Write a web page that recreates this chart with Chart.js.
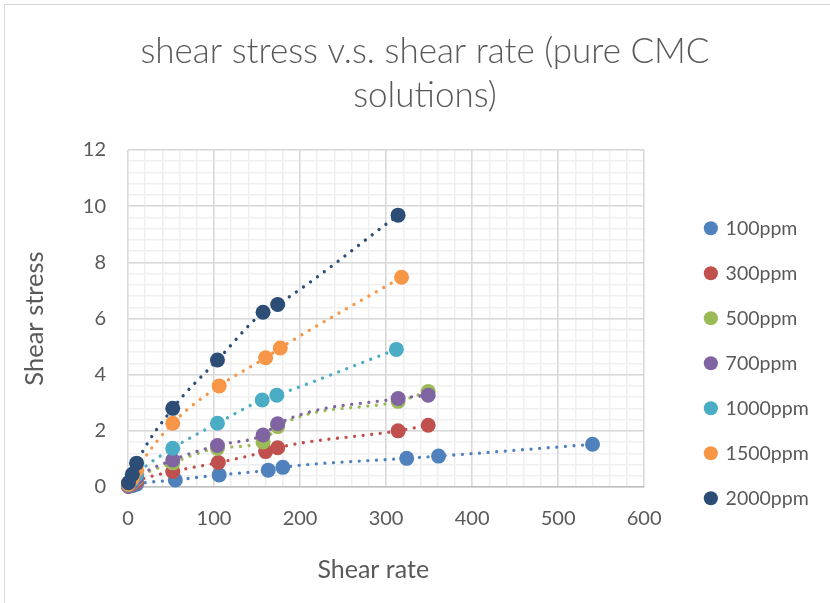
<!DOCTYPE html>
<html><head><meta charset="utf-8">
<script src="https://cdn.jsdelivr.net/npm/chart.js@4.4.1/dist/chart.umd.min.js"></script>
<style>
html,body{margin:0;padding:0;background:#fff;overflow:hidden;width:830px;height:603px;}
#frame{position:absolute;left:4px;top:4px;width:900px;height:700px;border:1px solid #d9d9d9;box-sizing:border-box;}
#c{position:absolute;left:0;top:0;}
</style></head><body>
<div id="frame"></div>
<canvas id="c" width="830" height="603"></canvas>
<script>
// ---- data ----
const seriesNames = ["100ppm", "300ppm", "500ppm", "700ppm", "1000ppm", "1500ppm", "2000ppm"];
const seriesColors = ["#4F81BD", "#C0504D", "#9BBB59", "#8064A2", "#4BACC6", "#F79646", "#2C4D75"];

const rate100  = [0.5, 5, 10, 55, 106, 163, 180, 324, 361, 540];
const stress100 = [0.02, 0.05, 0.1, 0.25, 0.43, 0.6, 0.7, 1.02, 1.1, 1.52];

const rate300  = [0.5, 5, 10, 52, 105, 160, 174, 314, 349];
const stress300 = [0.03, 0.1, 0.2, 0.55, 0.87, 1.26, 1.4, 2.0, 2.2];

const rate500  = [0.5, 5, 10, 52, 104, 157, 174, 314, 349];
const stress500 = [0.05, 0.15, 0.3, 0.86, 1.38, 1.6, 2.15, 3.05, 3.4];

const rate700  = [0.5, 5, 10, 52, 104, 157, 174, 314, 349];
const stress700 = [0.05, 0.17, 0.33, 0.96, 1.48, 1.85, 2.25, 3.15, 3.27];

const rate1000  = [0.5, 5, 10, 52, 104, 156, 173, 312];
const stress1000 = [0.08, 0.25, 0.45, 1.38, 2.27, 3.1, 3.27, 4.9];

const rate1500  = [0.5, 5, 10, 52, 106, 160, 177, 318];
const stress1500 = [0.1, 0.3, 0.6, 2.27, 3.6, 4.6, 4.95, 7.47];

const rate2000  = [0.5, 5, 10, 52, 104, 157, 174, 314];
const stress2000 = [0.15, 0.45, 0.85, 2.8, 4.52, 6.22, 6.5, 9.68];

const xTicks = [0, 100, 200, 300, 400, 500, 600];
const yTicks = [0, 2, 4, 6, 8, 10, 12];

const rates = [rate100, rate300, rate500, rate700, rate1000, rate1500, rate2000];
const stresses = [stress100, stress300, stress500, stress700, stress1000, stress1500, stress2000];

// ---- build chart ----
const FONT = "Lato, 'Liberation Sans', sans-serif";
const TXT = "#595959";

const datasets = seriesNames.map((name, i) => ({
  label: name,
  data: rates[i].map((x, j) => ({x: x, y: stresses[i][j]})),
  showLine: true,
  borderColor: seriesColors[i],
  backgroundColor: seriesColors[i],
  pointBackgroundColor: seriesColors[i],
  pointBorderColor: seriesColors[i],
  pointBorderWidth: 0,
  pointRadius: 7.5,
  pointHoverRadius: 7.5,
  borderWidth: 3.3,
  borderDash: [0.01, 8.6],
  borderCapStyle: 'round',
  cubicInterpolationMode: 'monotone',
  clip: false,
  order: seriesNames.length - i
}));

new Chart(document.getElementById('c'), {
  type: 'scatter',
  data: { datasets: datasets },
  options: {
    responsive: false,
    animation: false,
    devicePixelRatio: 1,
    layout: { padding: { left: 42, right: 22, top: 0, bottom: 26 } },
    plugins: {
      tooltip: { enabled: false },
      title: {
        display: true,
        text: ["shear stress v.s. shear rate (pure CMC", "solutions)"],
        color: TXT,
        font: { family: FONT, size: 35, weight: '300', lineHeight: 1.25 },
        padding: { top: 30, bottom: 32.5 }
      },
      legend: {
        display: true,
        position: 'right',
        align: 'center',
        title: { display: true, text: ' ', font: { size: 10, lineHeight: 1 }, padding: { top: 139.5, bottom: 0 } },
        labels: {
          usePointStyle: true,
          pointStyle: 'circle',
          boxWidth: 10,
          boxHeight: 10,
          padding: 25.5,
          color: TXT,
          font: { family: FONT, size: 19.5 },
          sort: (a, b) => a.datasetIndex - b.datasetIndex
        }
      }
    },
    scales: {
      x: {
        type: 'linear',
        position: 'bottom',
        min: xTicks[0],
        max: xTicks[xTicks.length - 1],
        afterBuildTicks: (s) => { s.ticks = xTicks.map(v => ({value: v})); },
        afterFit: (s) => { s.height = 90; },
        grid: { color: '#d9d9d9', lineWidth: 1.5, drawTicks: false, z: -1 },
        border: { display: true, color: '#bfbfbf', width: 1.5 },
        ticks: { color: TXT, font: { family: FONT, size: 20 }, padding: 20 },
        title: { display: true, text: "Shear rate    ", color: TXT, font: { family: FONT, size: 25 }, padding: { top: 0, bottom: -8 } }
      },
      y: {
        type: 'linear',
        position: 'left',
        min: yTicks[0],
        max: yTicks[yTicks.length - 1],
        afterBuildTicks: (s) => { s.ticks = yTicks.map(v => ({value: v})); },
        afterFit: (s) => { s.width = 86; },
        grid: { color: '#d9d9d9', lineWidth: 1.5, drawTicks: false, z: -1 },
        border: { display: false },
        ticks: { color: TXT, font: { family: FONT, size: 20 }, padding: 22 },
        title: { display: true, text: "Shear stress", color: TXT, font: { family: FONT, size: 25.5 }, padding: { top: -22.3, bottom: 0 } }
      },
      xm: {
        type: 'linear',
        position: 'top',
        min: 0, max: 30,
        ticks: { display: false, stepSize: 1 },
        afterFit: (s) => { s.height = 0; },
        grid: { color: '#efefef', lineWidth: 1.5, drawTicks: false, z: -2 },
        border: { display: false }
      },
      ym: {
        type: 'linear',
        position: 'right',
        min: 0, max: 30,
        ticks: { display: false, stepSize: 1 },
        afterFit: (s) => { s.width = 36.2; },
        grid: { color: '#efefef', lineWidth: 1.5, drawTicks: false, z: -2 },
        border: { display: false }
      }
    }
  }
});
</script>
</body></html>
